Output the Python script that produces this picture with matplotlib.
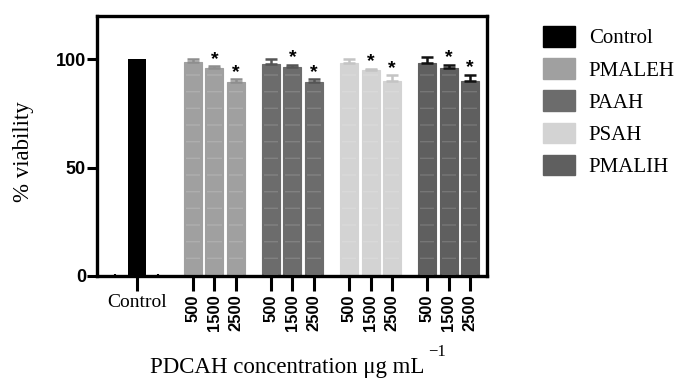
import matplotlib
matplotlib.use("Agg")
import matplotlib.pyplot as plt
from matplotlib.patches import Patch
import numpy as np

# ---- data ----
series = ["Control", "PMALEH", "PAAH", "PSAH", "PMALIH"]
concentrations = ["500", "1500", "2500"]
control_value = 100.0
pmaleh = [99.0, 96.0, 89.5]
paah = [98.0, 96.3, 89.5]
psah = [98.5, 95.0, 90.0]
pmalih = [98.3, 96.0, 90.0]
pmaleh_err = [1.0, 0.8, 1.3]
paah_err = [2.3, 1.2, 1.3]
psah_err = [1.7, 0.6, 2.6]
pmalih_err = [2.8, 1.5, 3.0]
significant = [False, True, True]

colors = {"Control": "#000000", "PMALEH": "#a0a0a0", "PAAH": "#6c6c6c",
          "PSAH": "#d3d3d3", "PMALIH": "#5f5f5f"}
err_colors = {"PMALEH": "#8e8e8e", "PAAH": "#555555", "PSAH": "#c4c4c4",
              "PMALIH": "#111111"}

serif = ["Liberation Serif", "DejaVu Serif"]
sans = ["Liberation Sans", "DejaVu Sans"]

fig = plt.figure(figsize=(6.8, 3.81), dpi=100)
ax = fig.add_axes([97/680, 1-276/381, (487-97)/680, (276-16)/381])

width = 0.84
group_starts = [2.6, 6.23, 9.87, 13.5]
groups = [("PMALEH", pmaleh, pmaleh_err), ("PAAH", paah, paah_err),
          ("PSAH", psah, psah_err), ("PMALIH", pmalih, pmalih_err)]

# control bar
ax.bar([0], [control_value], width=width, color=colors["Control"], zorder=2)

tick_pos = [0]
tick_lab = ["Control"]
for (name, vals, errs), g0 in zip(groups, group_starts):
    xs = g0 + np.arange(len(vals))
    ax.bar(xs, vals, width=width, color=colors[name], edgecolor=colors[name],
           linewidth=0.8, zorder=2)
    ax.bar(xs, vals, width=width*0.8, fill=False, hatch="-",
           edgecolor=(1, 1, 1, 0.15), linewidth=0, zorder=3)
    ax.errorbar(xs, vals, yerr=[np.zeros(len(errs)), errs], fmt="none",
                ecolor=err_colors[name], elinewidth=1.8, capsize=4,
                capthick=1.8, zorder=4)
    for x, v, e, s in zip(xs, vals, errs, significant):
        if s:
            ax.annotate("*", (x, v + e), xytext=(0, -1), textcoords="offset points",
                        ha="center", va="bottom", fontsize=14, fontweight="bold",
                        family=sans)
    tick_pos.extend(xs)
    tick_lab.extend(concentrations)

ax.set_xlim(-1.86, 16.28)
ax.set_ylim(0, 120)
ax.set_yticks([0, 50, 100])
ax.set_yticklabels(["0", "50", "100"], family=sans, fontweight="bold", fontsize=13)
ax.set_xticks(tick_pos)
labels = ax.set_xticklabels(tick_lab)
for i, t in enumerate(labels):
    if i == 0:
        t.set_family(serif)
        t.set_fontsize(14)
    else:
        t.set_family(sans)
        t.set_fontweight("bold")
        t.set_fontsize(12)
        t.set_rotation(90)
ax.set_xticks([-1, 1], minor=True)
ax.tick_params(axis="x", which="minor", length=3, width=1.5, direction="inout")
ax.tick_params(axis="x", which="major", length=11, width=2.2, pad=2)
ax.tick_params(axis="y", length=7, width=2.2, pad=1)

for sp in ax.spines.values():
    sp.set_linewidth(2.4)
    sp.set_zorder(5)

ax.set_ylabel("% viability", family=serif, fontsize=16.5)
ax.yaxis.label.set_verticalalignment("center")
ax.yaxis.set_label_coords(23/680, 1-152/381, transform=fig.transFigure)

fig.text(287/680, 1-368/381, "PDCAH concentration \u03bcg mL", family=serif,
         fontsize=16.5, ha="center", va="center")
fig.text(428/680, 1-352/381, "\u22121", family=serif, fontsize=12,
         ha="left", va="center")

handles = [Patch(facecolor=colors[s], edgecolor=colors[s]) for s in series]
fig.legend(handles, series, loc="upper left", bbox_to_anchor=(543/680, 1-26/381),
           frameon=False, prop={"family": serif, "size": 15},
           handlelength=1.55, handleheight=1.15, labelspacing=0.47,
           handletextpad=0.65, borderpad=0, borderaxespad=0)

fig.savefig("out.png", dpi=100)
